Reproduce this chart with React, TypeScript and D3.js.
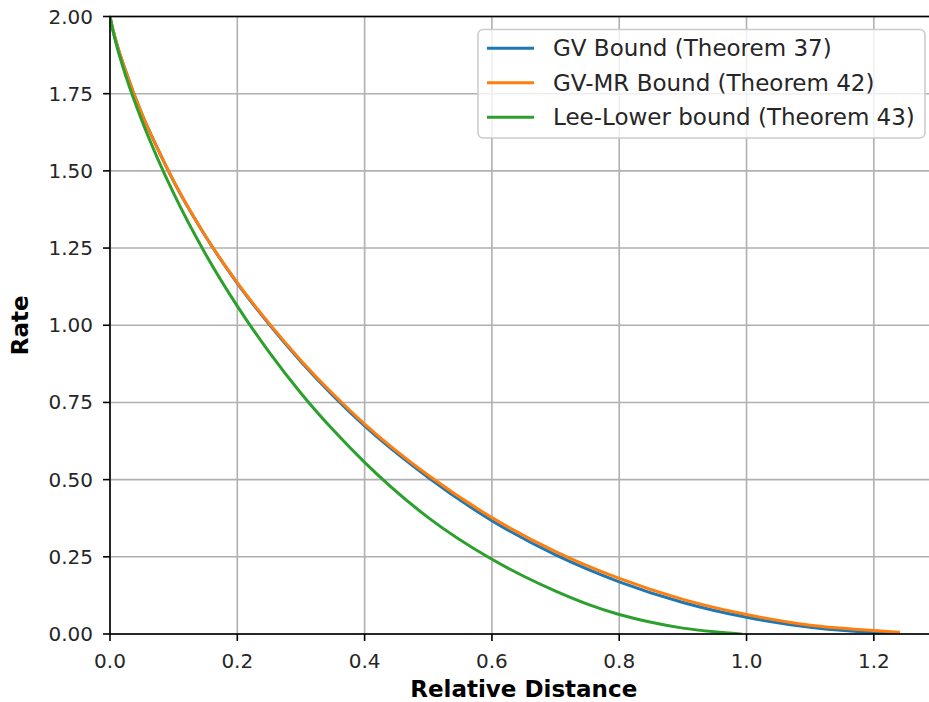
import React from "react";
import * as d3 from "d3";

const distances = [0, 0.005, 0.01, 0.025, 0.05, 0.075, 0.1, 0.15, 0.2, 0.25, 0.3, 0.35, 0.4, 0.5, 0.6, 0.7, 0.8, 0.9, 1.0, 1.1, 1.2, 1.2385];
const gvRate = [2.0, 1.954, 1.916, 1.821, 1.685, 1.571, 1.466, 1.288, 1.136, 1.003, 0.882, 0.773, 0.674, 0.507, 0.367, 0.256, 0.169, 0.102, 0.054, 0.022, 0.005, 0.002];
const gvMrRate = [2.0, 1.954, 1.916, 1.821, 1.685, 1.571, 1.467, 1.289, 1.138, 1.006, 0.886, 0.778, 0.68, 0.514, 0.377, 0.267, 0.18, 0.112, 0.063, 0.028, 0.011, 0.006];

const leeDistances = [0, 0.005, 0.01, 0.025, 0.05, 0.075, 0.1, 0.15, 0.2, 0.25, 0.3, 0.35, 0.4, 0.5, 0.6, 0.65, 0.7, 0.75, 0.8, 0.85, 0.9, 0.95, 0.99];
const leeRate = [2.0, 1.95, 1.909, 1.806, 1.663, 1.539, 1.427, 1.231, 1.062, 0.913, 0.78, 0.662, 0.556, 0.377, 0.242, 0.187, 0.139, 0.097, 0.063, 0.038, 0.019, 0.007, 0.0];

const seriesNames = ["GV Bound (Theorem 37)", "GV-MR Bound (Theorem 42)", "Lee-Lower bound (Theorem 43)"];
const seriesColors = ["#1f77b4", "#ff7f0e", "#2ca02c"];

const xTicks = [0, 0.2, 0.4, 0.6, 0.8, 1.0, 1.2];
const yTicks = [0, 0.25, 0.5, 0.75, 1.0, 1.25, 1.5, 1.75, 2.0];

const W = 929;
const H = 702;
const left = 110;
const right = 937.5;
const top = 16.5;
const bottom = 634;
const FONT = "DejaVu Sans, sans-serif";

export default function App() {
  const x = d3.scaleLinear().domain([0, 1.3]).range([left, right]);
  const y = d3.scaleLinear().domain([0, 2]).range([bottom, top]);
  const line = d3
    .line<[number, number]>()
    .x((d) => x(d[0]))
    .y((d) => y(d[1]))
    .curve(d3.curveMonotoneX);

  const series = [
    distances.map((v, i) => [v, gvRate[i]] as [number, number]),
    distances.map((v, i) => [v, gvMrRate[i]] as [number, number]),
    leeDistances.map((v, i) => [v, leeRate[i]] as [number, number]),
  ];

  const legX = 478;
  const legY = 29.5;
  const legW = 447;
  const legH = 108.5;

  return (
    <svg
      width={W}
      height={H}
      style={{ position: "absolute", left: 0, top: 0, display: "block", background: "#fff" }}
      fontFamily={FONT}
    >
      <defs>
        <clipPath id="plotclip">
          <rect x={left} y={top} width={right - left} height={bottom - top} />
        </clipPath>
      </defs>
      <rect x={0} y={0} width={W} height={H} fill="#fff" />
      {xTicks.map((t) => (
        <line key={"gx" + t} x1={x(t)} x2={x(t)} y1={top} y2={bottom} stroke="#b0b0b0" strokeWidth={1.6} />
      ))}
      {yTicks.map((t) => (
        <line key={"gy" + t} x1={left} x2={right} y1={y(t)} y2={y(t)} stroke="#b0b0b0" strokeWidth={1.6} />
      ))}
      <g clipPath="url(#plotclip)">
        {series.map((s, i) => (
          <path key={i} d={line(s) || ""} fill="none" stroke={seriesColors[i]} strokeWidth={3} strokeLinejoin="round" strokeLinecap="square" />
        ))}
      </g>
      <rect x={left} y={top} width={right - left} height={bottom - top} fill="none" stroke="#000" strokeWidth={1.6} />
      {xTicks.map((t) => (
        <g key={"tx" + t}>
          <line x1={x(t)} x2={x(t)} y1={bottom} y2={bottom + 7} stroke="#000" strokeWidth={1.6} />
          <text x={x(t)} y={bottom + 34} textAnchor="middle" fontSize={20} fill="#262626">
            {d3.format(".1f")(t)}
          </text>
        </g>
      ))}
      {yTicks.map((t) => (
        <g key={"ty" + t}>
          <line x1={left - 7} x2={left} y1={y(t)} y2={y(t)} stroke="#000" strokeWidth={1.6} />
          <text x={left - 17} y={y(t)} dy="0.35em" textAnchor="end" fontSize={20} fill="#262626">
            {d3.format(".2f")(t)}
          </text>
        </g>
      ))}
      <text x={(left + right) / 2} y={697} textAnchor="middle" fontSize={23} fontWeight="bold" fill="#000">
        Relative Distance
      </text>
      <text
        transform={`translate(28, ${(top + bottom) / 2}) rotate(-90)`}
        textAnchor="middle"
        fontSize={23}
        fontWeight="bold"
        fill="#000"
      >
        Rate
      </text>
      <rect x={legX} y={legY} width={legW} height={legH} rx={5} ry={5} fill="#fff" fillOpacity={0.8} stroke="#cccccc" strokeWidth={1.6} />
      {seriesNames.map((n, i) => {
        const ly = 48.3 + i * 34.5;
        return (
          <g key={n}>
            <line x1={487} x2={534} y1={ly} y2={ly} stroke={seriesColors[i]} strokeWidth={3} />
            <text x={553} y={ly} dy="0.35em" fontSize={23} fill="#262626">
              {n}
            </text>
          </g>
        );
      })}
    </svg>
  );
}
